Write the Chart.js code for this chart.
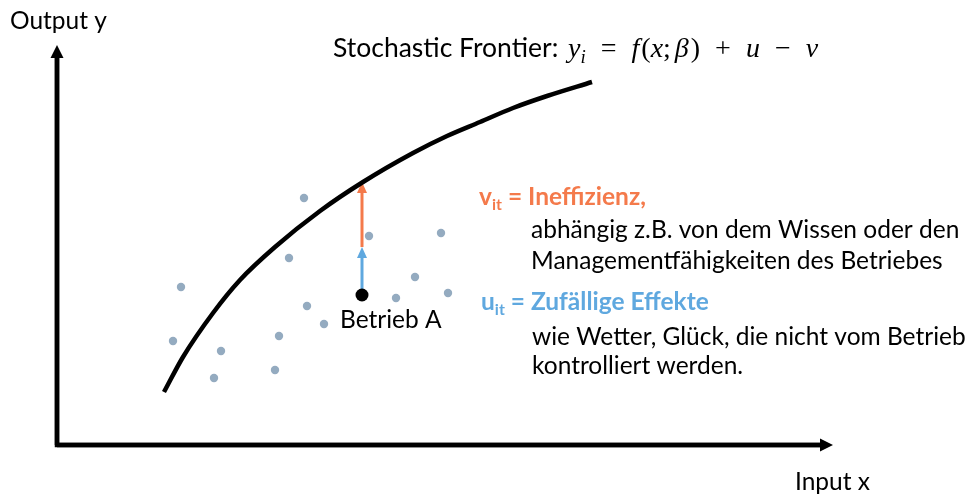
<!DOCTYPE html>
<html>
<head>
<meta charset="utf-8">
<script src="https://cdn.jsdelivr.net/npm/chart.js@4/dist/chart.umd.min.js"></script>
<style>
  html, body { margin: 0; padding: 0; background: #fff; }
  #wrap { width: 968px; height: 494px; }
</style>
</head>
<body>
<div id="wrap"><canvas id="chart" width="968" height="494"></canvas></div>
<script>
// plot window in data units (origin = corner of the two axes)
const xRange = [-5.7, 91.1];
const yRange = [-4.9, 44.5];
const xAxisEnd = 77.6;
const yAxisEnd = 40.0;

// frontier curve
const frontierX = [10.7, 12.6, 15.6, 18.3, 21.8, 26.3, 30.6, 35.6, 39.0, 42.3, 45.6, 49.0, 53.5];
const frontierY = [5.3, 8.8, 13.2, 16.5, 19.8, 23.4, 26.3, 29.2, 30.9, 32.3, 33.7, 34.9, 36.3];

// observed farms
const farmX = [24.7, 31.2, 38.4, 23.2, 12.4, 35.8, 39.1, 33.9, 25.0, 26.7, 22.2, 11.6, 16.4, 15.7, 21.8];
const farmY = [24.7, 20.9, 21.2, 18.7, 15.8, 16.8, 15.2, 14.7, 13.9, 12.1, 10.9, 10.4, 9.4, 6.7, 7.5];

// Betrieb A and its two error components
const betriebA = [30.5, 15.0];
const uTop = 19.8;   // end of u (random effect)
const vTop = 26.3;   // end of v (inefficiency), on the frontier

const ORANGE = "#f47a4b";
const BLUE = "#5fa8df";
const SANS = "Lato, 'Open Sans', sans-serif";
const SERIF = "'Liberation Serif', 'DejaVu Serif', serif";

function arrow(ctx, x0, y0, x1, y1, color, width, headLen, headHalf) {
    const ang = Math.atan2(y1 - y0, x1 - x0);
    const bx = x1 - Math.cos(ang) * headLen;
    const by = y1 - Math.sin(ang) * headLen;
    ctx.save();
    ctx.strokeStyle = color;
    ctx.fillStyle = color;
    ctx.lineWidth = width;
    ctx.beginPath();
    ctx.moveTo(x0, y0);
    ctx.lineTo(bx, by);
    ctx.stroke();
    ctx.beginPath();
    ctx.moveTo(x1, y1);
    ctx.lineTo(bx - Math.sin(ang) * headHalf, by + Math.cos(ang) * headHalf);
    ctx.lineTo(bx + Math.sin(ang) * headHalf, by - Math.cos(ang) * headHalf);
    ctx.closePath();
    ctx.fill();
    ctx.restore();
}

// draws a row of text pieces, each with its own font / colour / shift
function runs(ctx, x, y, parts) {
    ctx.save();
    ctx.textBaseline = "alphabetic";
    ctx.textAlign = "left";
    parts.forEach(p => {
        if (p.gap) { x += p.gap; return; }
        ctx.font = p.font;
        ctx.fillStyle = p.color || "#000";
        ctx.fillText(p.t, x, y + (p.dy || 0));
        x += ctx.measureText(p.t).width;
    });
    ctx.restore();
}

const arrowsPlugin = {
    id: "arrows",
    beforeDatasetsDraw(chart) {
        const { ctx, scales: { x, y } } = chart;
        const ox = x.getPixelForValue(0), oy = y.getPixelForValue(0);
        // axes
        ctx.save();
        ctx.strokeStyle = "#000";
        ctx.lineWidth = 4.5;
        ctx.lineCap = "square";
        ctx.beginPath();
        ctx.moveTo(ox, y.getPixelForValue(yAxisEnd) + 10);
        ctx.lineTo(ox, oy);
        ctx.lineTo(x.getPixelForValue(xAxisEnd) - 10, oy);
        ctx.stroke();
        ctx.restore();
        arrow(ctx, ox, oy, ox, y.getPixelForValue(yAxisEnd), "#000", 4.5, 13, 6.5);
        arrow(ctx, ox, oy, x.getPixelForValue(xAxisEnd), oy, "#000", 4.5, 13, 6.5);
        // u and v
        const ax = x.getPixelForValue(betriebA[0]);
        arrow(ctx, ax, y.getPixelForValue(betriebA[1]), ax, y.getPixelForValue(uTop), BLUE, 3, 11, 5);
        arrow(ctx, ax, y.getPixelForValue(uTop), ax, y.getPixelForValue(vTop), ORANGE, 3, 11, 5);
    }
};

const textPlugin = {
    id: "texts",
    afterDatasetsDraw(chart) {
        const { ctx, scales: { x, y } } = chart;
        const P = (dx, dy) => [x.getPixelForValue(dx), y.getPixelForValue(dy)];
        const reg = "24.5px " + SANS;
        const bold = "bold 24.5px " + SANS;
        const sub = "bold 16px " + SANS;
        const it = "italic 28px " + SERIF;
        const up = "28px " + SERIF;

        let p = P(-4.7, 41.6);
        runs(ctx, p[0], p[1], [{ t: "Output y", font: reg }]);
        p = P(73.8, -4.5);
        runs(ctx, p[0], p[1], [{ t: "Input x", font: reg }]);

        p = P(27.6, 38.8);
        runs(ctx, p[0], p[1], [
            { t: "Stochastic Frontier: ", font: "26.5px " + SANS },
            { gap: 3 },
            { t: "y", font: it },
            { t: "i", font: "italic 19px " + SERIF, dy: 6 },
            { gap: 15 }, { t: "=", font: up }, { gap: 15 },
            { t: "f", font: it }, { gap: 2 }, { t: "(", font: up }, { t: "x", font: it },
            { t: ";", font: up }, { gap: 4 }, { t: "β", font: it }, { gap: 2 }, { t: ")", font: up },
            { gap: 15 }, { t: "+", font: up }, { gap: 15 },
            { t: "u", font: it },
            { gap: 15 }, { t: "−", font: up }, { gap: 15 },
            { t: "v", font: it }
        ]);

        p = P(28.3, 11.7);
        runs(ctx, p[0], p[1], [{ t: "Betrieb A", font: reg }]);

        p = P(42.2, 24.0);
        runs(ctx, p[0], p[1], [
            { t: "v", font: bold, color: ORANGE },
            { t: "it", font: sub, color: ORANGE, dy: 5 },
            { t: " = Ineffizienz,", font: bold, color: ORANGE }
        ]);
        p = P(47.4, 20.7);
        runs(ctx, p[0], p[1], [{ t: "abhängig z.B. von dem Wissen oder den", font: reg }]);
        p = P(47.4, 17.6);
        runs(ctx, p[0], p[1], [{ t: "Managementfähigkeiten des Betriebes", font: reg }]);

        p = P(42.4, 13.5);
        runs(ctx, p[0], p[1], [
            { t: "u", font: bold, color: BLUE },
            { t: "it", font: sub, color: BLUE, dy: 5 },
            { t: " = Zufällige Effekte", font: bold, color: BLUE }
        ]);
        p = P(47.5, 10.0);
        runs(ctx, p[0], p[1], [{ t: "wie Wetter, Glück, die nicht vom Betrieb", font: reg }]);
        p = P(47.5, 7.1);
        runs(ctx, p[0], p[1], [{ t: "kontrolliert werden.", font: reg }]);
    }
};

new Chart(document.getElementById("chart"), {
    type: "scatter",
    data: {
        datasets: [
            {
                label: "Frontier",
                data: frontierX.map((v, i) => ({ x: v, y: frontierY[i] })),
                showLine: true,
                borderColor: "#000",
                borderWidth: 4.5,
                pointRadius: 0,
                cubicInterpolationMode: "monotone",
                fill: false
            },
            {
                label: "Betriebe",
                data: farmX.map((v, i) => ({ x: v, y: farmY[i] })),
                pointRadius: 4.2,
                pointBackgroundColor: "#94abc0",
                pointBorderWidth: 0
            },
            {
                label: "Betrieb A",
                data: [{ x: betriebA[0], y: betriebA[1] }],
                pointRadius: 6.5,
                pointBackgroundColor: "#000",
                pointBorderWidth: 0
            }
        ]
    },
    options: {
        responsive: false,
        animation: false,
        layout: { padding: 0, autoPadding: false },
        scales: {
            x: { type: "linear", min: xRange[0], max: xRange[1], display: false },
            y: { type: "linear", min: yRange[0], max: yRange[1], display: false }
        },
        plugins: {
            legend: { display: false },
            tooltip: { enabled: false }
        }
    },
    plugins: [arrowsPlugin, textPlugin]
});
</script>
</body>
</html>
